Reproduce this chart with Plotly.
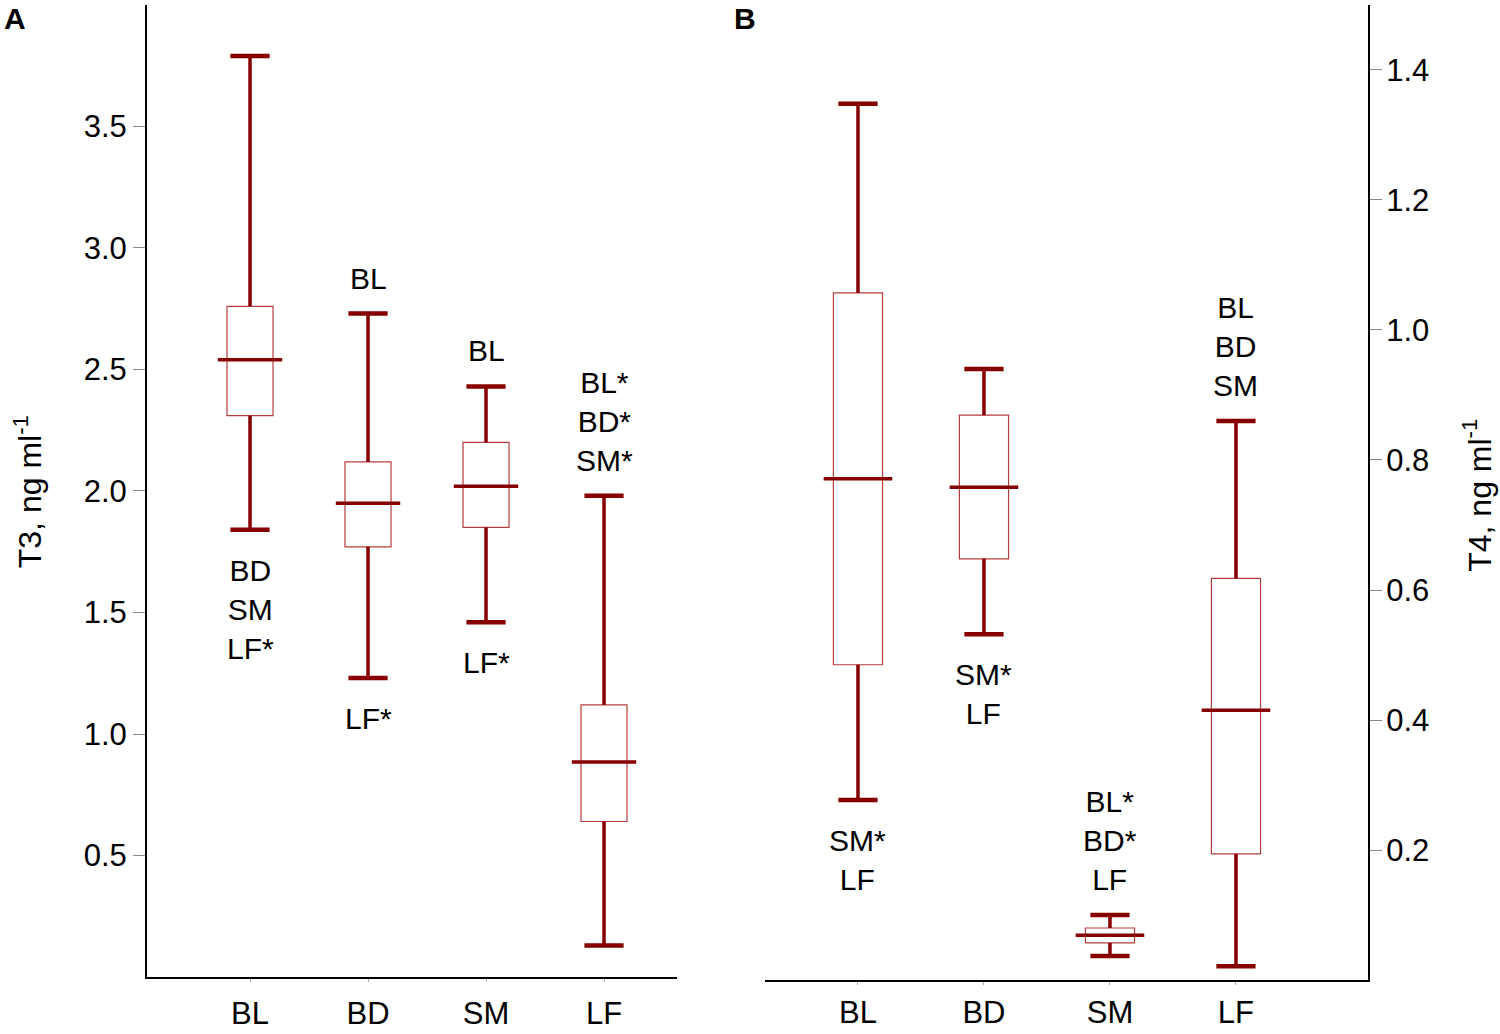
import plotly.graph_objects as go

# --- data ---
groups = ['BL', 'BD', 'SM', 'LF']

# panel A: T3, ng/ml
t3_low = [1.84, 1.23, 1.46, 0.13]
t3_q1 = [2.31, 1.77, 1.85, 0.64]
t3_med = [2.54, 1.95, 2.02, 0.885]
t3_q3 = [2.76, 2.12, 2.20, 1.12]
t3_high = [3.79, 2.73, 2.43, 1.98]
t3_above = ['', 'BL', 'BL', 'BL*<br>BD*<br>SM*']
t3_below = ['BD<br>SM<br>LF*', 'LF*', 'LF*', '']

# panel B: T4, ng/ml
t4_low = [0.277, 0.532, 0.037, 0.021]
t4_q1 = [0.485, 0.648, 0.057, 0.194]
t4_med = [0.771, 0.758, 0.069, 0.415]
t4_q3 = [1.057, 0.869, 0.080, 0.618]
t4_high = [1.348, 0.94, 0.10, 0.86]
t4_above = ['', '', 'BL*<br>BD*<br>LF', 'BL<br>BD<br>SM']
t4_below = ['SM*<br>LF', 'SM*<br>LF', '', '']

DARK = '#860000'
BOXLINE = '#b83c3c'
FONT = 'Liberation Sans, Arial, sans-serif'

fig = go.Figure()


def add_panel(xref, yref, low, q1, med, q3, high, med_px):
    # thin box outline
    fig.add_trace(go.Box(
        x=groups, q1=q1, median=med, q3=q3, lowerfence=low, upperfence=high,
        width=0.39, whiskerwidth=0, boxpoints=False,
        line=dict(color=BOXLINE, width=1.2), fillcolor='white',
        xaxis=xref, yaxis=yref, showlegend=False, hoverinfo='skip'
    ))
    # thick whiskers
    wx, wy = [], []
    for g, a, b, c, d in zip(groups, q3, high, q1, low):
        wx += [g, g, None, g, g, None]
        wy += [a, b, None, c, d, None]
    fig.add_trace(go.Scatter(
        x=wx, y=wy, mode='lines', line=dict(color=DARK, width=3.5),
        xaxis=xref, yaxis=yref, showlegend=False, hoverinfo='skip'
    ))
    # caps
    fig.add_trace(go.Scatter(
        x=groups + groups, y=high + low, mode='markers',
        marker=dict(symbol='line-ew', size=28, line=dict(color=DARK, width=4.5)),
        xaxis=xref, yaxis=yref, showlegend=False, hoverinfo='skip'
    ))
    # medians
    fig.add_trace(go.Scatter(
        x=groups, y=med, mode='markers',
        marker=dict(symbol='line-ew', size=med_px, line=dict(color=DARK, width=3.5)),
        xaxis=xref, yaxis=yref, showlegend=False, hoverinfo='skip'
    ))


add_panel('x', 'y', t3_low, t3_q1, t3_med, t3_q3, t3_high, 46)
add_panel('x2', 'y2', t4_low, t4_q1, t4_med, t4_q3, t4_high, 49)

annotations = []
label_font = dict(family=FONT, size=30, color='black')
for xref, yref, high, low, above, below in [
        ('x', 'y', t3_high, t3_low, t3_above, t3_below),
        ('x2', 'y2', t4_high, t4_low, t4_above, t4_below)]:
    for g, h, l, ta, tb in zip(groups, high, low, above, below):
        if ta:
            annotations.append(dict(x=g, y=h, xref=xref, yref=yref, text=ta,
                                    showarrow=False, yanchor='bottom', yshift=17,
                                    font=label_font))
        if tb:
            annotations.append(dict(x=g, y=l, xref=xref, yref=yref, text=tb,
                                    showarrow=False, yanchor='top', yshift=-22,
                                    font=label_font))

# panel letters and axis titles
annotations += [
    dict(x=0.001, y=1.0, xref='paper', yref='paper', text='<b>A</b>',
         showarrow=False, xanchor='left', yanchor='top',
         font=dict(family=FONT, size=30, color='black')),
    dict(x=0.4877, y=1.0, xref='paper', yref='paper', text='<b>B</b>',
         showarrow=False, xanchor='left', yanchor='top',
         font=dict(family=FONT, size=30, color='black')),
    dict(x=0.0187, y=0.524, xref='paper', yref='paper', text='T3, ng ml<sup>-1</sup>',
         showarrow=False, textangle=-90, xanchor='center', yanchor='middle',
         font=dict(family=FONT, size=32, color='black')),
    dict(x=0.985, y=0.521, xref='paper', yref='paper', text='T4, ng ml<sup>-1</sup>',
         showarrow=False, textangle=-90, xanchor='center', yanchor='middle',
         font=dict(family=FONT, size=32, color='black')),
]

tick_font = dict(family=FONT, size=31, color='black')
xcommon = dict(type='category', categoryorder='array', categoryarray=groups,
               showline=True, linecolor='black', linewidth=2,
               ticks='outside', ticklen=3, tickcolor='#aaa',
               tickfont=tick_font, showgrid=False, zeroline=False, fixedrange=True)
ycommon = dict(showline=True, linecolor='black', linewidth=2,
               ticks='outside', ticklen=12, tickcolor='#888', tickwidth=1.2,
               tickfont=tick_font, showgrid=False, zeroline=False, tickformat='.1f')

fig.update_layout(
    width=1500, height=1034,
    margin=dict(l=0, r=0, t=0, b=0),
    paper_bgcolor='white', plot_bgcolor='white',
    xaxis=dict(domain=[0.098, 0.4513], range=[-0.873, 3.618], anchor='y',
               ticklabelstandoff=5, **xcommon),
    yaxis=dict(domain=[0.0551, 0.9952], range=[0, 4.0], anchor='x',
               tickvals=[0.5, 1.0, 1.5, 2.0, 2.5, 3.0, 3.5], **ycommon),
    xaxis2=dict(domain=[0.51, 0.912], range=[-0.738, 4.048], anchor='y2',
                ticklabelstandoff=1, **xcommon),
    yaxis2=dict(domain=[0.0522, 0.9952], range=[0, 1.5], anchor='x2', side='right',
                tickvals=[0.2, 0.4, 0.6, 0.8, 1.0, 1.2, 1.4], ticklabelstandoff=-2,
                **ycommon),
    annotations=annotations,
    showlegend=False,
)

fig.write_html('out.html', config={'displayModeBar': False},
               post_script="document.body.style.margin='0';")
